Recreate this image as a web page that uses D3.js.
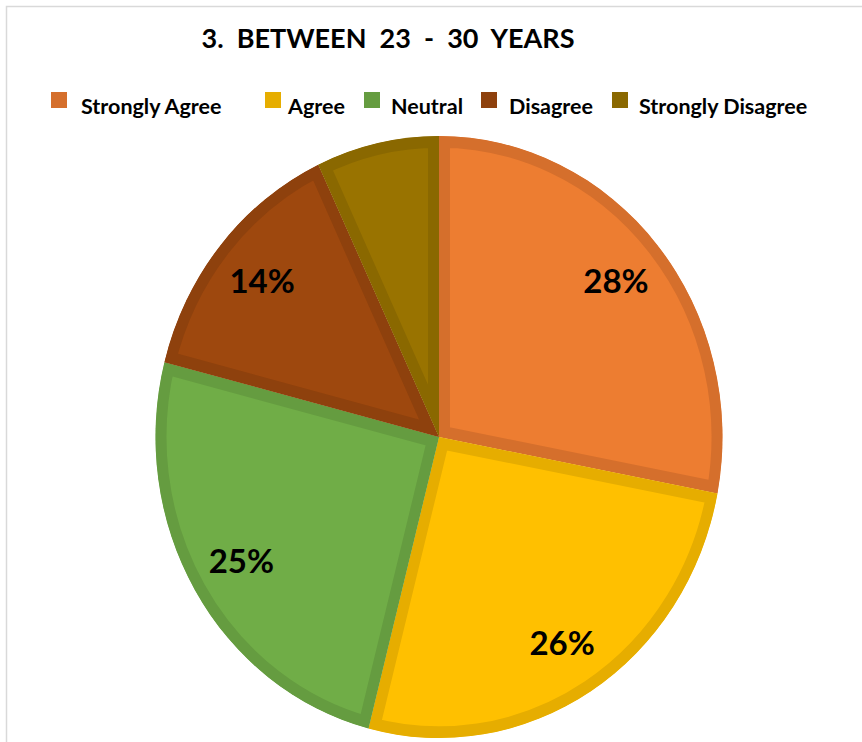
<!DOCTYPE html>
<html>
<head>
<meta charset="utf-8">
<script src="https://cdn.jsdelivr.net/npm/d3@7"></script>
<style>
  html, body { margin: 0; padding: 0; background: #fff; }
  svg { display: block; }
  text { font-family: Lato, "Open Sans", "DejaVu Sans", sans-serif; font-weight: bold; fill: #000; }
</style>
</head>
<body>
<svg id="chart" width="862" height="742"></svg>
<script>
// Survey answers for respondents aged 23 - 30
const title = "3.  BETWEEN  23  -  30  YEARS";
const categories = ["Strongly Agree", "Agree", "Neutral", "Disagree", "Strongly Disagree"];
const shares = [28, 26, 25, 14, 7];
const showLabel = [true, true, true, true, false];
const fillColors = ["#ED7D31", "#FFC000", "#70AD47", "#9E480E", "#997300"];
const edgeColors = ["#D56F2C", "#E6AD00", "#659C40", "#8E410D", "#8A6800"];

const svg = d3.select("#chart");
const W = 862, H = 742;

// chart frame
svg.append("rect")
  .attr("x", 6.5).attr("y", 6.5)
  .attr("width", W + 10).attr("height", H + 10)
  .attr("fill", "#fff").attr("stroke", "#d9d9d9").attr("stroke-width", 1.5);

// title
svg.append("text")
  .attr("x", 388).attr("y", 48)
  .attr("text-anchor", "middle")
  .attr("font-size", 27)
  .style("white-space", "pre")
  .text(title);

// legend: swatch and label columns
const swatchX = [51, 265, 364, 481, 612];
const labelX = [81, 288, 391, 509, 639];
const sw = 16;
const legend = svg.append("g");
categories.forEach((c, i) => {
  legend.append("rect")
    .attr("x", swatchX[i]).attr("y", 92)
    .attr("width", sw).attr("height", sw)
    .attr("fill", edgeColors[i]);
  legend.append("text")
    .attr("x", labelX[i]).attr("y", 114)
    .attr("font-size", 21.5)
    .text(c);
});

// pie, slightly taller than wide
const cx = 439, cy = 437;
const rx = 283.5, ry = 301;
const border = 11;
const squash = `translate(${cx},${cy}) scale(1,${ry / rx})`;

const pie = d3.pie().sort(null).value(d => d)(shares);
const arc = d3.arc().innerRadius(0).outerRadius(rx);
const labelArc = d3.arc().innerRadius(rx * 0.81).outerRadius(rx * 0.81);

const defs = svg.append("defs");
const slices = svg.append("g");
pie.forEach((p, i) => {
  const id = "slice-clip-" + i;
  defs.append("clipPath").attr("id", id)
    .append("path").attr("d", arc(p)).attr("transform", squash);
  // doubled stroke clipped to the slice leaves a border on the inside only
  slices.append("g")
    .attr("clip-path", `url(#${id})`)
    .append("path")
    .attr("d", arc(p))
    .attr("transform", squash)
    .attr("fill", fillColors[i])
    .attr("stroke", edgeColors[i])
    .attr("stroke-width", border * 2);
});

// percentage labels
pie.forEach((p, i) => {
  if (!showLabel[i]) return;
  const [x, y] = labelArc.centroid(p);
  svg.append("text")
    .attr("x", cx + x)
    .attr("y", cy + y * ry / rx)
    .attr("dy", "0.36em")
    .attr("text-anchor", "middle")
    .attr("font-size", 33)
    .text(shares[i] + "%");
});
</script>
</body>
</html>
